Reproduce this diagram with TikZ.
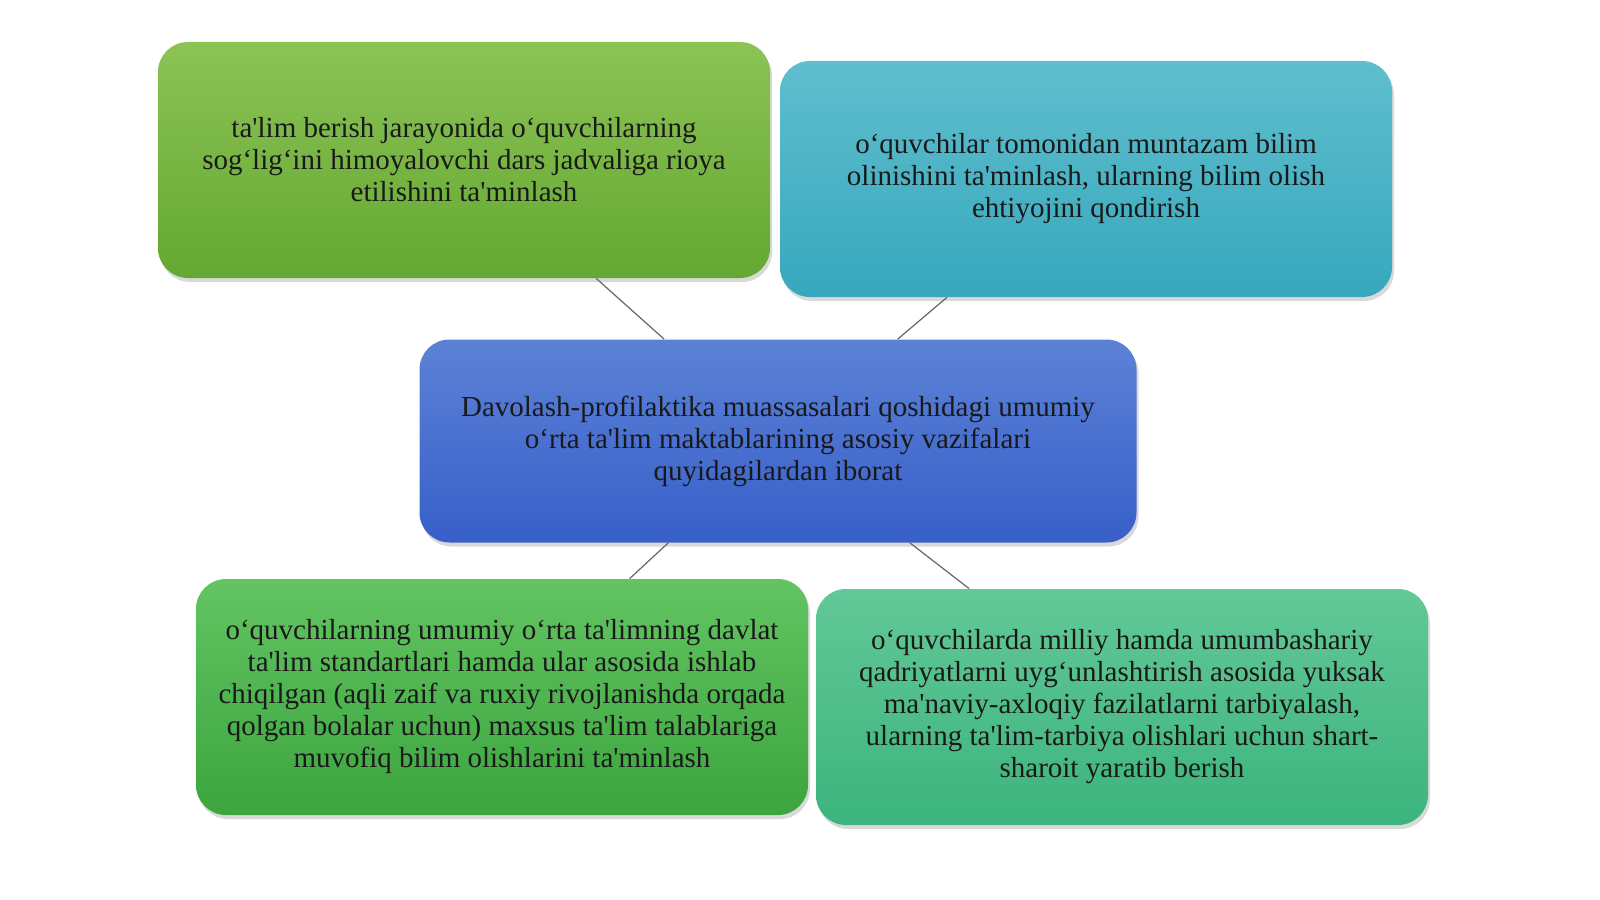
\documentclass[tikz,border=0pt]{standalone}
\usepackage{fontspec}
\setmainfont{Liberation Serif}
\usetikzlibrary{shadows}

\newcommand{\apos}{\textquotesingle}

\definecolor{tlTop}{RGB}{140,195,85}
\definecolor{tlBot}{RGB}{100,168,50}
\definecolor{trTop}{RGB}{95,190,205}
\definecolor{trBot}{RGB}{55,168,190}
\definecolor{cTop}{RGB}{92,130,215}
\definecolor{cBot}{RGB}{55,95,200}
\definecolor{blTop}{RGB}{98,196,98}
\definecolor{blBot}{RGB}{60,165,62}
\definecolor{brTop}{RGB}{98,200,152}
\definecolor{brBot}{RGB}{60,180,125}

\begin{document}
\begin{tikzpicture}[x=0.5pt,y=-0.5pt]
\tikzstyle{every node}=[font=\fontsize{14.5}{16}\selectfont, text=black!90, align=center]
\tikzstyle{box}=[rounded corners=15pt, inner sep=0pt, minimum width=306pt, minimum height=118pt,
  drop shadow={shadow xshift=1pt, shadow yshift=-2pt, opacity=0.25, fill=black!60}]
\tikzstyle{every edge}=[draw, black!60, line width=0.6pt]

\useasboundingbox (0,0) rectangle (1600,899);

\node[box, top color=cTop, bottom color=cBot, minimum width=358.5pt, minimum height=101.5pt] (C) at (778,441)
  {Davolash-profilaktika muassasalari qoshidagi umumiy\\o‘rta ta\apos lim maktablarining asosiy vazifalari\\quyidagilardan iborat};
\node[box, top color=tlTop, bottom color=tlBot] (TL) at (464,160)
  {ta\apos lim berish jarayonida o‘quvchilarning\\sog‘lig‘ini himoyalovchi dars jadvaliga rioya\\etilishini ta\apos minlash};
\node[box, top color=trTop, bottom color=trBot] (TR) at (1086,179)
  {o‘quvchilar tomonidan muntazam bilim\\olinishini ta\apos minlash, ularning bilim olish\\ehtiyojini qondirish};
\node[box, top color=blTop, bottom color=blBot] (BL) at (502,697)
  {o‘quvchilarning umumiy o‘rta ta\apos limning davlat\\ta\apos lim standartlari hamda ular asosida ishlab\\chiqilgan (aqli zaif va ruxiy rivojlanishda orqada\\qolgan bolalar uchun) maxsus ta\apos lim talablariga\\muvofiq bilim olishlarini ta\apos minlash};
\node[box, top color=brTop, bottom color=brBot] (BR) at (1122,707)
  {o‘quvchilarda milliy hamda umumbashariy\\qadriyatlarni uyg‘unlashtirish asosida yuksak\\ma\apos naviy-axloqiy fazilatlarni tarbiyalash,\\ularning ta\apos lim-tarbiya olishlari uchun shart-\\sharoit yaratib berish};

\draw (C) edge (TL) edge (TR) edge (BL) edge (BR);
\end{tikzpicture}
\end{document}
